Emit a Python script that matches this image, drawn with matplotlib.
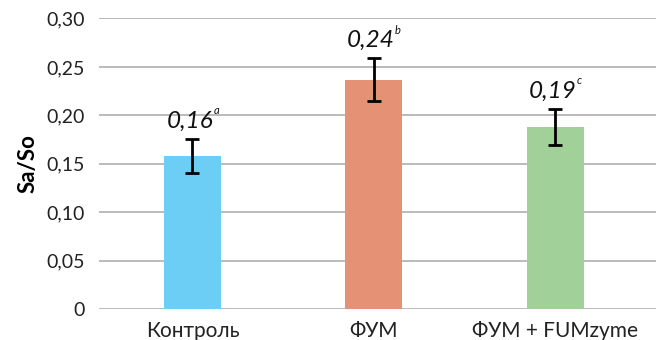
import numpy as np
import matplotlib.pyplot as plt

groups = ["Контроль", "ФУМ", "ФУМ + FUMzyme"]
values = [0.158, 0.237, 0.188]
errors = [0.018, 0.022, 0.019]
labels = ["0,16", "0,24", "0,19"]
letters = ["a", "b", "c"]
colors = ["#6ccef5", "#e59176", "#a1d099"]
yticks = [0, 0.05, 0.10, 0.15, 0.20, 0.25, 0.30]
ytick_labels = ["0", "0,05", "0,10", "0,15", "0,20", "0,25", "0,30"]

plt.rcParams['font.family'] = ['Lato', 'DejaVu Sans']

fig = plt.figure(figsize=(6.62, 3.4), dpi=100)
ax = fig.add_axes([0.1495, 0.0912, 0.9909 - 0.1495, 0.9456 - 0.0912])

x = np.arange(len(groups))
ax.bar(x, values, width=0.314, color=colors, zorder=2)
ax.errorbar(x, values, yerr=errors, fmt='none', ecolor='black',
            elinewidth=2, capsize=5, capthick=2, zorder=3)

# подписи значений над планками погрешностей, буква - маленький индекс
for xi, v, e, lab, let in zip(x, values, errors, labels, letters):
    ax.annotate(lab, (xi, v + e), xytext=(-2, 5),
                textcoords='offset points', ha='center', va='bottom',
                fontsize=17.5, style='italic', color='#111111')
    ax.annotate(let, (xi, v + e), xytext=(15, 20),
                textcoords='offset points', ha='left', va='center',
                fontsize=8, style='italic', color='#111111')

ax.set_ylim(0, 0.30)
ax.set_xlim(-0.515, 2.554)
ax.set_yticks(yticks)
ax.set_yticklabels(ytick_labels, fontsize=14, color='#222222')
ax.set_xticks(x)
ax.set_xticklabels(groups, fontsize=15, color='#222222')
ax.tick_params(axis='y', length=0, pad=10)
ax.tick_params(axis='x', length=0, pad=9)
ax.yaxis.grid(True, color='#b5b5b5', linewidth=1.3, zorder=0)
ax.set_axisbelow(True)
for s in ax.spines.values():
    s.set_visible(False)
ax.set_ylabel("Sa/So", fontsize=16, fontweight='bold', labelpad=6)

fig.savefig("out.png", dpi=100)
